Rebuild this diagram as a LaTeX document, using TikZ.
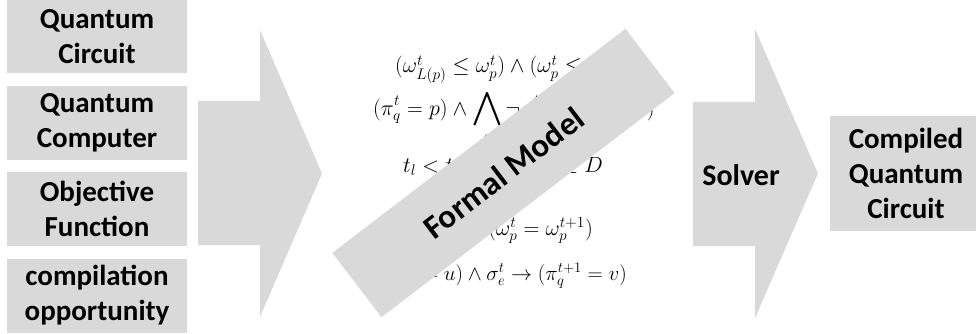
\RequirePackage{fix-cm}
\documentclass[tikz,border=0pt]{standalone}
\usepackage{amsmath,amssymb}
\usepackage{exscale}
\usepackage{fontspec}
\newfontfamily\carl{Carlito}
\definecolor{lgray}{HTML}{D9D9D9}
\newcommand{\bigwedgewide}{\mathop{\vcenter{\hbox{\scalebox{1.3}[1.15]{$\displaystyle\bigwedge$}}}}\limits}
\tikzset{
  box/.style={fill=lgray, inner sep=0pt, align=center, font=\carl\bfseries\fontsize{29}{35}\selectfont},
  bigarrow/.style={fill=lgray},
  lbl/.style={inner sep=0pt, font=\carl\bfseries\fontsize{30}{35}\selectfont},
  fml/.style={inner sep=0pt, font=\fontsize{22}{26}\selectfont},
}
\begin{document}
\begin{tikzpicture}[x=1pt,y=-1pt]
\useasboundingbox (0,0) rectangle (976,334);
\clip (0,0) rectangle (976,334);
% input boxes
\node[box, minimum width=180, minimum height=74] (qc) at (97,36.5) {Quantum\\Circuit};
\node[box, minimum width=180, minimum height=74] (qm) at (97,123) {Quantum\\Computer};
\node[box, minimum width=180, minimum height=74] (of) at (97,209) {Objective\\Function};
\node[box, minimum width=180, minimum height=74] (co) at (97,295.5) {compilation\\opportunity};
% first big arrow
\fill[bigarrow] (198,101) -- (260,101) -- (260,30) -- (322,173.5) -- (260,317) -- (260,245) -- (198,245) -- cycle;
% formulas
\node[fml, anchor=base west] (f1) at (395,73) {$(\omega^t_{L(p)} \le \omega^t_p) \wedge (\omega^t_p \le \omega^t_{R(p)})$};
\node[fml, anchor=base west] (f2) at (373,115) {$\displaystyle (\pi^t_q = p) \wedge \bigwedgewide_{e} \neg\sigma^t_e \rightarrow (\pi^{t+1}_q{=}p)$};
\node[fml, anchor=base west] (f3) at (403,172) {$t_l < t_u,\ \ \forall (g_l, g_u) \in D$};
\node[fml, anchor=base east] (f4) at (593,235) {$\neg\sigma^t_{e} \rightarrow (\omega^t_p = \omega^{t+1}_p)$};
\node[fml, anchor=base east, font=\fontsize{21}{25}\selectfont] (f5) at (627,280) {$(\pi^t_q = u) \wedge \sigma^t_e \rightarrow (\pi^{t+1}_q = v)$};
% formal model band
\node[fill=lgray, rotate=37.4, minimum width=369, minimum height=81, inner sep=0pt] (band) at (503.5,173) {};
\node[lbl, rotate=37.4, font=\carl\bfseries\fontsize{33}{38}\selectfont] (fm) at (band.center) {Formal Model};
% second big arrow
\fill[bigarrow] (693,102) -- (755,102) -- (755,29) -- (818,173.5) -- (755,318) -- (755,246) -- (693,246) -- cycle;
\node[lbl, anchor=base] (solver) at (741,185) {Solver};
% output box
\node[box, minimum width=152, minimum height=115] (out) at (906,173.5) {Compiled\\Quantum\\Circuit};
\end{tikzpicture}
\end{document}
